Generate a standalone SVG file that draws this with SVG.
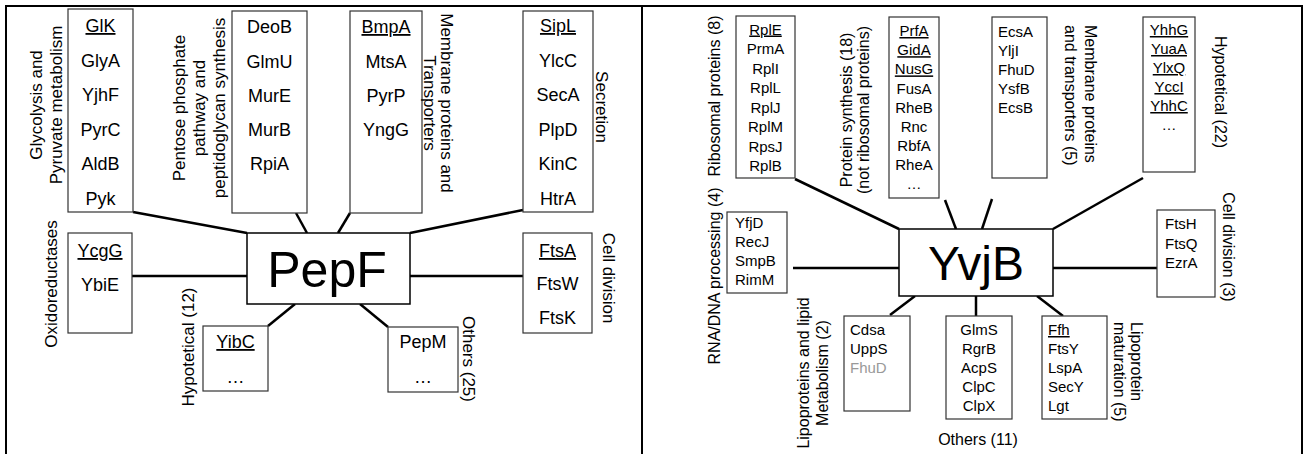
<svg xmlns="http://www.w3.org/2000/svg" width="1305" height="454" viewBox="0 0 1305 454">
<style>
text{font-family:"Liberation Sans",Arial,Helvetica,sans-serif;fill:#000}
.box{fill:#fff;stroke:#333;stroke-width:1.2}
.hub{fill:#fff;stroke:#000;stroke-width:1.5}
.conn line{stroke:#000;stroke-width:2.5}
.frame line{stroke:#000;stroke-width:2}
.il{font-size:18px;text-anchor:middle}
.ir{font-size:15px;text-anchor:middle}
.irl{font-size:15px;text-anchor:start}
.lab{font-size:17px;text-anchor:middle}
.labr{font-size:16px;text-anchor:middle}
.labs{font-size:16px;text-anchor:start}
.u{text-decoration:underline}
.gray{fill:#999}
.big{font-size:50px;text-anchor:middle}
</style>
<rect width="1305" height="454" fill="#fff"/>
<g class="frame">
<line x1="5" y1="6" x2="1303" y2="6"/>
<line x1="6" y1="5" x2="6" y2="454"/>
<line x1="642" y1="5" x2="642" y2="454"/>
<line x1="1302" y1="5" x2="1302" y2="454"/>
</g>
<g class="conn" id="connectors">
<line x1="133" y1="212" x2="247" y2="233"/>
<line x1="296" y1="213" x2="307" y2="233"/>
<line x1="350" y1="213" x2="338" y2="233"/>
<line x1="523" y1="210" x2="410" y2="233"/>
<line x1="132" y1="276" x2="247" y2="276"/>
<line x1="410" y1="276" x2="523" y2="276"/>
<line x1="295" y1="304" x2="268" y2="326"/>
<line x1="360" y1="304" x2="388" y2="327"/>
<line x1="795" y1="179" x2="899" y2="229"/>
<line x1="945" y1="200" x2="956" y2="229"/>
<line x1="992" y1="199" x2="982" y2="229"/>
<line x1="1053" y1="229" x2="1143" y2="178"/>
<line x1="793" y1="268" x2="899" y2="268"/>
<line x1="1053" y1="268" x2="1158" y2="268"/>
<line x1="915" y1="296" x2="890" y2="315"/>
<line x1="976" y1="296" x2="976" y2="316"/>
<line x1="1037" y1="296" x2="1063" y2="316"/>
</g>
<!-- Left panel -->
<g id="pepf">
<rect class="hub" x="247" y="233" width="163" height="71"/>
<text class="big" x="327" y="287">PepF</text>
</g>
<g id="glycolysis">
<rect class="box" x="68" y="9" width="65" height="203"/>
<text class="il"><tspan class="u" x="100.5" y="32">GlK</tspan><tspan x="100.5" y="66.6">GlyA</tspan><tspan x="100.5" y="101.2">YjhF</tspan><tspan x="100.5" y="135.8">PyrC</tspan><tspan x="100.5" y="170.4">AldB</tspan><tspan x="100.5" y="205">Pyk</tspan></text>
<text class="lab" transform="translate(42,105) rotate(-90)"><tspan x="0" y="0">Glycolysis and</tspan><tspan x="0" y="20">Pyruvate metabolism</tspan></text>
</g>
<g id="pentose">
<rect class="box" x="232" y="11" width="75" height="202"/>
<text class="il"><tspan x="269.5" y="33">DeoB</tspan><tspan x="269.5" y="68">GlmU</tspan><tspan x="269.5" y="102">MurE</tspan><tspan x="269.5" y="136">MurB</tspan><tspan x="269.5" y="170">RpiA</tspan></text>
<text class="lab" transform="translate(185,108) rotate(-90)"><tspan x="0" y="0">Pentose phosphate</tspan><tspan x="0" y="20">pathway and</tspan><tspan x="0" y="40">peptidoglycan synthesis</tspan></text>
</g>
<g id="membrane-left">
<rect class="box" x="350" y="11" width="72" height="202"/>
<text class="il"><tspan class="u" x="386" y="33">BmpA</tspan><tspan x="386" y="68">MtsA</tspan><tspan x="386" y="102">PyrP</tspan><tspan x="386" y="136">YngG</tspan></text>
<text class="lab" transform="translate(441,103) rotate(90)"><tspan x="0" y="0">Membrane proteins and</tspan><tspan x="0" y="17">Transporters</tspan></text>
</g>
<g id="secretion">
<rect class="box" x="523" y="11" width="70" height="201"/>
<text class="il"><tspan class="u" x="558" y="32">SipL</tspan><tspan x="558" y="66.6">YlcC</tspan><tspan x="558" y="101.2">SecA</tspan><tspan x="558" y="135.8">PlpD</tspan><tspan x="558" y="170.4">KinC</tspan><tspan x="558" y="205">HtrA</tspan></text>
<text class="lab" transform="translate(596,107) rotate(90)">Secretion</text>
</g>
<g id="oxidoreductases">
<rect class="box" x="68" y="233" width="64" height="100"/>
<text class="il"><tspan class="u" x="100" y="257">YcgG</tspan><tspan x="100" y="291">YbiE</tspan></text>
<text class="lab" transform="translate(57,284) rotate(-90)">Oxidoreductases</text>
</g>
<g id="celldiv-left">
<rect class="box" x="523" y="233" width="69" height="100"/>
<text class="il"><tspan class="u" x="557.5" y="257">FtsA</tspan><tspan x="557.5" y="290">FtsW</tspan><tspan x="557.5" y="324">FtsK</tspan></text>
<text class="lab" transform="translate(603,278) rotate(90)">Cell division</text>
</g>
<g id="hypo-left">
<rect class="box" x="203" y="326" width="65" height="65"/>
<text class="il"><tspan class="u" x="235.5" y="348">YibC</tspan><tspan x="235.5" y="383">…</tspan></text>
<text class="lab" transform="translate(194,347) rotate(-90)">Hypotetical (12)</text>
</g>
<g id="others-left">
<rect class="box" x="388" y="327" width="70" height="65"/>
<text class="il"><tspan x="423" y="348">PepM</tspan><tspan x="423" y="383">…</tspan></text>
<text class="lab" transform="translate(463,359) rotate(90)">Others (25)</text>
</g>
<!-- Right panel -->
<g id="yvjb">
<rect class="hub" x="899" y="229" width="154" height="67"/>
<text class="big" x="976" y="280" style="font-size:48px">YvjB</text>
</g>
<g id="ribosomal">
<rect class="box" x="736" y="16" width="59" height="162"/>
<text class="ir"><tspan class="u" x="765.5" y="34.5">RplE</tspan><tspan x="765.5" y="54">PrmA</tspan><tspan x="765.5" y="73.5">RplI</tspan><tspan x="765.5" y="93">RplL</tspan><tspan x="765.5" y="112.5">RplJ</tspan><tspan x="765.5" y="132">RplM</tspan><tspan x="765.5" y="151.5">RpsJ</tspan><tspan x="765.5" y="171">RplB</tspan></text>
<text class="labr" transform="translate(720,96) rotate(-90)">Ribosomal proteins (8)</text>
</g>
<g id="protsynth">
<rect class="box" x="889" y="17" width="50" height="181"/>
<text class="ir"><tspan class="u" x="914" y="36">PrfA</tspan><tspan class="u" x="914" y="55.2">GidA</tspan><tspan class="u" x="914" y="74.4">NusG</tspan><tspan x="914" y="93.6">FusA</tspan><tspan x="914" y="112.8">RheB</tspan><tspan x="914" y="132">Rnc</tspan><tspan x="914" y="151.2">RbfA</tspan><tspan x="914" y="170.4">RheA</tspan><tspan x="914" y="189">…</tspan></text>
<text class="labr" transform="translate(852,110) rotate(-90)"><tspan x="0" y="0">Protein synthesis (18)</tspan><tspan x="0" y="17">(not ribosomal proteins)</tspan></text>
</g>
<g id="membrane-right">
<rect class="box" x="992" y="17" width="55" height="161"/>
<text class="irl"><tspan x="998" y="37">EcsA</tspan><tspan x="998" y="56">YljI</tspan><tspan x="998" y="75">FhuD</tspan><tspan x="998" y="94">YsfB</tspan><tspan x="998" y="113">EcsB</tspan></text>
<text class="labs" transform="translate(1085,25) rotate(90)"><tspan x="0" y="0">Membrane proteins</tspan><tspan x="0" y="20">and transporters (5)</tspan></text>
</g>
<g id="hypo-right">
<rect class="box" x="1143" y="17" width="52" height="155"/>
<text class="ir"><tspan class="u" x="1169" y="35">YhhG</tspan><tspan class="u" x="1169" y="54">YuaA</tspan><tspan class="u" x="1169" y="73">YlxQ</tspan><tspan class="u" x="1169" y="92">YccI</tspan><tspan class="u" x="1169" y="111">YhhC</tspan><tspan x="1169" y="130">…</tspan></text>
<text class="labr" transform="translate(1215,92) rotate(90)">Hypotetical (22)</text>
</g>
<g id="rnadna">
<rect class="box" x="727" y="212" width="60" height="81"/>
<text class="irl"><tspan x="735" y="228">YfjD</tspan><tspan x="735" y="247">RecJ</tspan><tspan x="735" y="266">SmpB</tspan><tspan x="735" y="285">RimM</tspan></text>
<text class="labr" transform="translate(720,276) rotate(-90)">RNA/DNA processing (4)</text>
</g>
<g id="celldiv-right">
<rect class="box" x="1157" y="210" width="58" height="87"/>
<text class="irl"><tspan x="1165" y="229">FtsH</tspan><tspan x="1165" y="248.5">FtsQ</tspan><tspan x="1165" y="268">EzrA</tspan></text>
<text class="labr" transform="translate(1223,247) rotate(90)">Cell division (3)</text>
</g>
<g id="lipid">
<rect class="box" x="844" y="316" width="66" height="95"/>
<text class="irl"><tspan x="850" y="335">Cdsa</tspan><tspan x="850" y="354">UppS</tspan><tspan class="gray" x="850" y="373">FhuD</tspan></text>
<text class="labr" transform="translate(809,373) rotate(-90)"><tspan x="0" y="0">Lipoproteins and lipid</tspan><tspan x="0" y="19">Metabolism (2)</tspan></text>
</g>
<g id="others-right">
<rect class="box" x="946" y="316" width="66" height="103"/>
<text class="ir"><tspan x="979" y="335">GlmS</tspan><tspan x="979" y="354">RgrB</tspan><tspan x="979" y="373">AcpS</tspan><tspan x="979" y="392">ClpC</tspan><tspan x="979" y="411">ClpX</tspan></text>
<text class="labr" x="978" y="445">Others (11)</text>
</g>
<g id="lipomat">
<rect class="box" x="1042" y="316" width="65" height="103"/>
<text class="irl"><tspan class="u" x="1048" y="335">Ffh</tspan><tspan x="1048" y="354">FtsY</tspan><tspan x="1048" y="373">LspA</tspan><tspan x="1048" y="392">SecY</tspan><tspan x="1048" y="411">Lgt</tspan></text>
<text class="labs" transform="translate(1131,322) rotate(90)"><tspan x="0" y="0">Lipoprotein</tspan><tspan x="0" y="17">maturation (5)</tspan></text>
</g>
</svg>
